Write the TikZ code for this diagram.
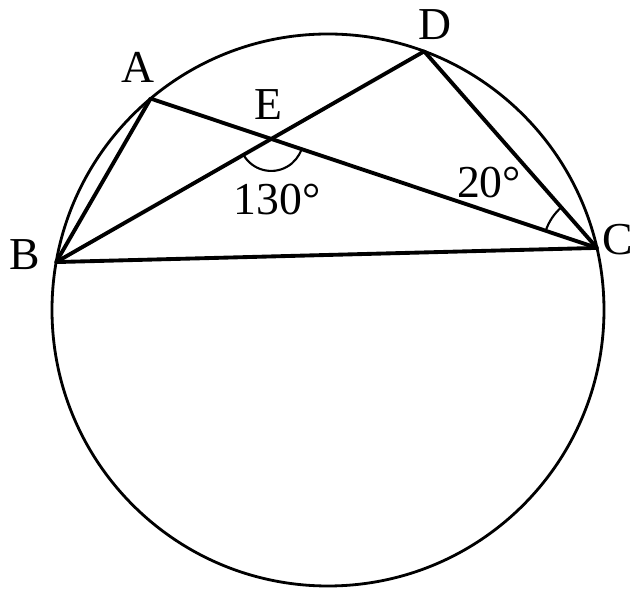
\documentclass[tikz,border=0pt]{standalone}
\usepackage{fontspec}
\setmainfont{Liberation Serif}
\usetikzlibrary{angles}

\tikzset{
  circ/.style={line width=0.8pt},
  chord/.style={line width=1.1pt, line cap=round},
  arcmark/.style={draw, line width=0.6pt},
  lbl/.style={font=\fontsize{13}{15}\selectfont, inner sep=0pt},
}

\begin{document}
\begin{tikzpicture}

  % --- parameters ---
  % centre and radius of the circle
  \def\rad{2.76}
  \useasboundingbox (0,0) rectangle (6.31,-5.89);
  \coordinate (O) at (3.28,-3.10);

  % 1. points on the circle
  \path (O) ++(130:\rad) coordinate (A);
  \path (O) ++(170:\rad) coordinate (B);
  \path (O) ++(13:\rad)  coordinate (C);
  \path (O) ++(69.6:\rad) coordinate (D);
  % E = AC x BD
  \coordinate (E) at (intersection of A--C and B--D);

  % 2. circle
  \draw[circ] (O) circle (\rad);

  % 3. chords
  \draw[chord] (A) -- (B);
  \draw[chord] (A) -- (C);
  \draw[chord] (B) -- (D);
  \draw[chord] (D) -- (C);
  \draw[chord] (B) -- (C);

  % 4. angle marks
  \pic[arcmark, angle radius=0.32cm] {angle = B--E--C};
  \pic[arcmark, angle radius=0.54cm] {angle = D--C--A};

  % 5. labels
  \node[lbl] (labA) at (1.38,-0.67) {A};
  \node[lbl] (labB) at (0.25,-2.55) {B};
  \node[lbl] (labC) at (6.18,-2.40) {C};
  \node[lbl] (labD) at (4.35,-0.25) {D};
  \node[lbl] (labE) at (2.68,-1.05) {E};
  \node[lbl] (ang130) at (2.77,-2.00) {130°};
  \node[lbl] (ang20) at (4.89,-1.83) {20°};

\end{tikzpicture}
\end{document}
